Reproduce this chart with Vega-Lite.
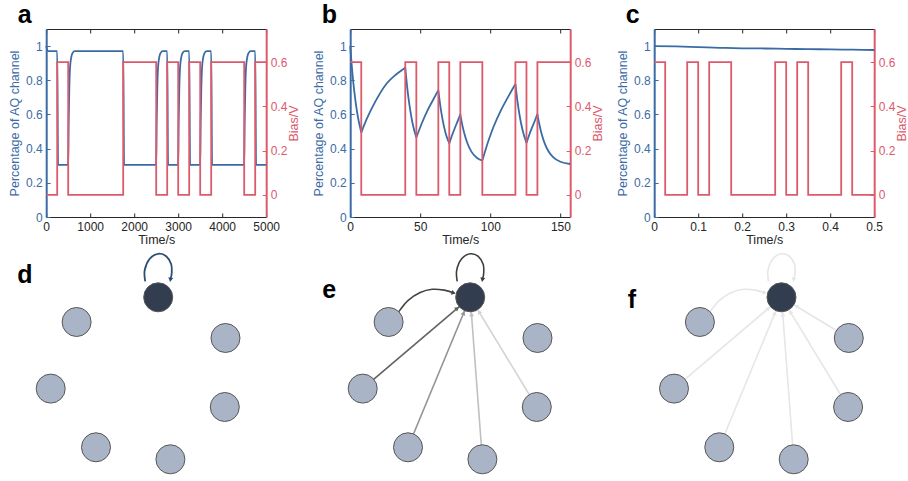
{
  "$schema": "https://vega.github.io/schema/vega-lite/v6.json",
  "padding": {"left": 8.2, "top": 2, "right": 0, "bottom": 0},
  "background": "#ffffff",
  "config": {
    "view": {"stroke": null},
    "font": "Liberation Sans",
    "axis": {"labelFont": "Liberation Sans", "titleFont": "Liberation Sans", "labelFontSize": 12, "titleFontSize": 12.5, "titleFontWeight": "normal", "labelColor": "#262626", "titleColor": "#262626", "domainColor": "#262626", "tickColor": "#262626", "tickSize": -4, "labelPadding": 8, "grid": false, "domainWidth": 1, "tickWidth": 1, "format": "~r"},
    "title": {"font": "Liberation Sans", "fontSize": 25, "fontWeight": "bold", "color": "#000000", "anchor": "start", "frame": "group", "baseline": "alphabetic"}
  },
  "datasets": {
    "aq": [
      {"panel": "a", "seg": 0, "t": 0, "v": 1.0}, {"panel": "a", "seg": 0, "t": 40, "v": 0.97}, {"panel": "a", "seg": 0, "t": 250, "v": 0.97}, {"panel": "a", "seg": 0, "t": 270, "v": 0.305}, {"panel": "a", "seg": 0, "t": 500, "v": 0.305}, {"panel": "a", "seg": 0, "t": 510, "v": 0.54}, {"panel": "a", "seg": 0, "t": 525, "v": 0.75}, {"panel": "a", "seg": 0, "t": 550, "v": 0.9}, {"panel": "a", "seg": 0, "t": 600, "v": 0.96}, {"panel": "a", "seg": 0, "t": 650, "v": 0.97},
      {"panel": "a", "seg": 0, "t": 1750, "v": 0.97}, {"panel": "a", "seg": 0, "t": 1770, "v": 0.305}, {"panel": "a", "seg": 0, "t": 2500, "v": 0.305}, {"panel": "a", "seg": 0, "t": 2510, "v": 0.54}, {"panel": "a", "seg": 0, "t": 2525, "v": 0.75}, {"panel": "a", "seg": 0, "t": 2550, "v": 0.9}, {"panel": "a", "seg": 0, "t": 2600, "v": 0.96}, {"panel": "a", "seg": 0, "t": 2650, "v": 0.97},
      {"panel": "a", "seg": 0, "t": 2750, "v": 0.97}, {"panel": "a", "seg": 0, "t": 2770, "v": 0.305}, {"panel": "a", "seg": 0, "t": 3000, "v": 0.305}, {"panel": "a", "seg": 0, "t": 3010, "v": 0.54}, {"panel": "a", "seg": 0, "t": 3025, "v": 0.75}, {"panel": "a", "seg": 0, "t": 3050, "v": 0.9}, {"panel": "a", "seg": 0, "t": 3100, "v": 0.96}, {"panel": "a", "seg": 0, "t": 3150, "v": 0.97},
      {"panel": "a", "seg": 0, "t": 3250, "v": 0.97}, {"panel": "a", "seg": 0, "t": 3270, "v": 0.305}, {"panel": "a", "seg": 0, "t": 3500, "v": 0.305}, {"panel": "a", "seg": 0, "t": 3510, "v": 0.54}, {"panel": "a", "seg": 0, "t": 3525, "v": 0.75}, {"panel": "a", "seg": 0, "t": 3550, "v": 0.9}, {"panel": "a", "seg": 0, "t": 3600, "v": 0.96}, {"panel": "a", "seg": 0, "t": 3650, "v": 0.97},
      {"panel": "a", "seg": 0, "t": 3750, "v": 0.97}, {"panel": "a", "seg": 0, "t": 3770, "v": 0.305}, {"panel": "a", "seg": 0, "t": 4500, "v": 0.305}, {"panel": "a", "seg": 0, "t": 4510, "v": 0.54}, {"panel": "a", "seg": 0, "t": 4525, "v": 0.75}, {"panel": "a", "seg": 0, "t": 4550, "v": 0.9}, {"panel": "a", "seg": 0, "t": 4600, "v": 0.96}, {"panel": "a", "seg": 0, "t": 4650, "v": 0.97},
      {"panel": "a", "seg": 0, "t": 4750, "v": 0.97}, {"panel": "a", "seg": 0, "t": 4770, "v": 0.305}, {"panel": "a", "seg": 0, "t": 5000, "v": 0.305},

      {"panel": "b", "seg": 1, "t": 0, "v": 1.0}, {"panel": "b", "seg": 1, "t": 1.5, "v": 0.848}, {"panel": "b", "seg": 1, "t": 3, "v": 0.729}, {"panel": "b", "seg": 1, "t": 5, "v": 0.609}, {"panel": "b", "seg": 1, "t": 7.9, "v": 0.494},
      {"panel": "b", "seg": 2, "t": 7.9, "v": 0.494}, {"panel": "b", "seg": 2, "t": 11.9, "v": 0.575}, {"panel": "b", "seg": 2, "t": 17.9, "v": 0.675}, {"panel": "b", "seg": 2, "t": 25.9, "v": 0.78}, {"panel": "b", "seg": 2, "t": 32.9, "v": 0.835}, {"panel": "b", "seg": 2, "t": 39.3, "v": 0.874},
      {"panel": "b", "seg": 3, "t": 39.3, "v": 0.874}, {"panel": "b", "seg": 3, "t": 40.8, "v": 0.75}, {"panel": "b", "seg": 3, "t": 42.3, "v": 0.654}, {"panel": "b", "seg": 3, "t": 44.3, "v": 0.556}, {"panel": "b", "seg": 3, "t": 47.2, "v": 0.465},
      {"panel": "b", "seg": 4, "t": 47.2, "v": 0.465}, {"panel": "b", "seg": 4, "t": 51.2, "v": 0.55}, {"panel": "b", "seg": 4, "t": 55.2, "v": 0.624}, {"panel": "b", "seg": 4, "t": 59.2, "v": 0.686}, {"panel": "b", "seg": 4, "t": 62.9, "v": 0.742},
      {"panel": "b", "seg": 5, "t": 62.9, "v": 0.742}, {"panel": "b", "seg": 5, "t": 64.4, "v": 0.646}, {"panel": "b", "seg": 5, "t": 65.9, "v": 0.571}, {"panel": "b", "seg": 5, "t": 67.9, "v": 0.496}, {"panel": "b", "seg": 5, "t": 70.7, "v": 0.43},
      {"panel": "b", "seg": 6, "t": 70.7, "v": 0.43}, {"panel": "b", "seg": 6, "t": 72.7, "v": 0.478}, {"panel": "b", "seg": 6, "t": 74.7, "v": 0.521}, {"panel": "b", "seg": 6, "t": 76.7, "v": 0.561}, {"panel": "b", "seg": 6, "t": 78.6, "v": 0.6},
      {"panel": "b", "seg": 7, "t": 78.6, "v": 0.6}, {"panel": "b", "seg": 7, "t": 80.1, "v": 0.535}, {"panel": "b", "seg": 7, "t": 81.6, "v": 0.484}, {"panel": "b", "seg": 7, "t": 83.6, "v": 0.433}, {"panel": "b", "seg": 7, "t": 86.6, "v": 0.381}, {"panel": "b", "seg": 7, "t": 90.3, "v": 0.347}, {"panel": "b", "seg": 7, "t": 94.3, "v": 0.33},
      {"panel": "b", "seg": 8, "t": 94.3, "v": 0.33}, {"panel": "b", "seg": 8, "t": 98.3, "v": 0.437}, {"panel": "b", "seg": 8, "t": 102.3, "v": 0.528}, {"panel": "b", "seg": 8, "t": 107.3, "v": 0.62}, {"panel": "b", "seg": 8, "t": 112.3, "v": 0.697}, {"panel": "b", "seg": 8, "t": 117.9, "v": 0.778},
      {"panel": "b", "seg": 9, "t": 117.9, "v": 0.778}, {"panel": "b", "seg": 9, "t": 119.4, "v": 0.675}, {"panel": "b", "seg": 9, "t": 120.9, "v": 0.594}, {"panel": "b", "seg": 9, "t": 122.9, "v": 0.512}, {"panel": "b", "seg": 9, "t": 125.8, "v": 0.433},
      {"panel": "b", "seg": 10, "t": 125.8, "v": 0.433}, {"panel": "b", "seg": 10, "t": 127.8, "v": 0.481}, {"panel": "b", "seg": 10, "t": 129.8, "v": 0.524}, {"panel": "b", "seg": 10, "t": 131.8, "v": 0.563}, {"panel": "b", "seg": 10, "t": 133.6, "v": 0.603},
      {"panel": "b", "seg": 11, "t": 133.6, "v": 0.603}, {"panel": "b", "seg": 11, "t": 135.1, "v": 0.538}, {"panel": "b", "seg": 11, "t": 136.6, "v": 0.487}, {"panel": "b", "seg": 11, "t": 138.6, "v": 0.435}, {"panel": "b", "seg": 11, "t": 141.6, "v": 0.383}, {"panel": "b", "seg": 11, "t": 145, "v": 0.349}, {"panel": "b", "seg": 11, "t": 150, "v": 0.323}, {"panel": "b", "seg": 11, "t": 157, "v": 0.31},

      {"panel": "c", "seg": 0, "t": 0, "v": 1.0}, {"panel": "c", "seg": 0, "t": 0.05, "v": 0.998}, {"panel": "c", "seg": 0, "t": 0.1, "v": 0.994}, {"panel": "c", "seg": 0, "t": 0.15, "v": 0.99}, {"panel": "c", "seg": 0, "t": 0.2, "v": 0.987}, {"panel": "c", "seg": 0, "t": 0.25, "v": 0.986}, {"panel": "c", "seg": 0, "t": 0.3, "v": 0.984}, {"panel": "c", "seg": 0, "t": 0.35, "v": 0.982}, {"panel": "c", "seg": 0, "t": 0.4, "v": 0.981}, {"panel": "c", "seg": 0, "t": 0.45, "v": 0.979}, {"panel": "c", "seg": 0, "t": 0.5, "v": 0.977}
    ],
    "bias": [
      {"panel": "a", "t": 0, "v": 0}, {"panel": "a", "t": 250, "v": 0.6}, {"panel": "a", "t": 500, "v": 0}, {"panel": "a", "t": 1750, "v": 0.6}, {"panel": "a", "t": 2500, "v": 0}, {"panel": "a", "t": 2750, "v": 0.6}, {"panel": "a", "t": 3000, "v": 0}, {"panel": "a", "t": 3250, "v": 0.6}, {"panel": "a", "t": 3500, "v": 0}, {"panel": "a", "t": 3750, "v": 0.6}, {"panel": "a", "t": 4500, "v": 0}, {"panel": "a", "t": 4750, "v": 0.6}, {"panel": "a", "t": 5000, "v": 0.6},
      {"panel": "b", "t": 0, "v": 0.6}, {"panel": "b", "t": 7.9, "v": 0}, {"panel": "b", "t": 39.3, "v": 0.6}, {"panel": "b", "t": 47.2, "v": 0}, {"panel": "b", "t": 62.9, "v": 0.6}, {"panel": "b", "t": 70.7, "v": 0}, {"panel": "b", "t": 78.6, "v": 0.6}, {"panel": "b", "t": 94.3, "v": 0}, {"panel": "b", "t": 117.9, "v": 0.6}, {"panel": "b", "t": 125.8, "v": 0}, {"panel": "b", "t": 133.6, "v": 0.6}, {"panel": "b", "t": 157, "v": 0.6},
      {"panel": "c", "t": 0, "v": 0.6}, {"panel": "c", "t": 0.025, "v": 0}, {"panel": "c", "t": 0.075, "v": 0.6}, {"panel": "c", "t": 0.1, "v": 0}, {"panel": "c", "t": 0.125, "v": 0.6}, {"panel": "c", "t": 0.175, "v": 0}, {"panel": "c", "t": 0.275, "v": 0.6}, {"panel": "c", "t": 0.3, "v": 0}, {"panel": "c", "t": 0.325, "v": 0.6}, {"panel": "c", "t": 0.35, "v": 0}, {"panel": "c", "t": 0.425, "v": 0.6}, {"panel": "c", "t": 0.45, "v": 0}, {"panel": "c", "t": 0.5, "v": 0}
    ],
    "nodes": [
      {"id": "hub", "role": "hub", "x": 0, "y": 0},
      {"id": "n1", "role": "peer", "x": -81.6, "y": -24.7},
      {"id": "n2", "role": "peer", "x": 67.3, "y": -40.7},
      {"id": "n3", "role": "peer", "x": -107.5, "y": -91.3},
      {"id": "n4", "role": "peer", "x": 66.6, "y": -109.7},
      {"id": "n5", "role": "peer", "x": -62.2, "y": -150},
      {"id": "n6", "role": "peer", "x": 12.2, "y": -162}
    ],
    "edges": [
      {"panel": "d", "edge": "loop", "k": 1, "x": -13, "y": 16, "w": 1}, {"panel": "d", "edge": "loop", "k": 2, "x": -13.5, "y": 27, "w": 1}, {"panel": "d", "edge": "loop", "k": 3, "x": -8.5, "y": 38.5, "w": 1}, {"panel": "d", "edge": "loop", "k": 4, "x": 0, "y": 43.5, "w": 1}, {"panel": "d", "edge": "loop", "k": 5, "x": 8, "y": 41, "w": 1}, {"panel": "d", "edge": "loop", "k": 6, "x": 13, "y": 33, "w": 1}, {"panel": "d", "edge": "loop", "k": 7, "x": 13.5, "y": 24, "w": 1}, {"panel": "d", "edge": "loop", "k": 8, "x": 12.3, "y": 18, "w": 1},

      {"panel": "e", "edge": "loop", "k": 1, "x": -13, "y": 16, "w": 0.93}, {"panel": "e", "edge": "loop", "k": 2, "x": -13.5, "y": 27, "w": 0.93}, {"panel": "e", "edge": "loop", "k": 3, "x": -8.5, "y": 38.5, "w": 0.93}, {"panel": "e", "edge": "loop", "k": 4, "x": 0, "y": 43.5, "w": 0.93}, {"panel": "e", "edge": "loop", "k": 5, "x": 8, "y": 41, "w": 0.93}, {"panel": "e", "edge": "loop", "k": 6, "x": 13, "y": 33, "w": 0.93}, {"panel": "e", "edge": "loop", "k": 7, "x": 13.5, "y": 24, "w": 0.93}, {"panel": "e", "edge": "loop", "k": 8, "x": 12.3, "y": 18, "w": 0.93},
      {"panel": "e", "edge": "n1", "k": 1, "x": -71.4, "y": -14.3, "w": 0.9}, {"panel": "e", "edge": "n1", "k": 2, "x": -62, "y": -3, "w": 0.9}, {"panel": "e", "edge": "n1", "k": 3, "x": -50, "y": 4.8, "w": 0.9}, {"panel": "e", "edge": "n1", "k": 4, "x": -38, "y": 8, "w": 0.9}, {"panel": "e", "edge": "n1", "k": 5, "x": -26, "y": 7.2, "w": 0.9}, {"panel": "e", "edge": "n1", "k": 6, "x": -16.5, "y": 4.4, "w": 0.9},
      {"panel": "e", "edge": "n3", "k": 1, "x": -107.5, "y": -91.3, "w": 0.72}, {"panel": "e", "edge": "n3", "k": 2, "x": 0, "y": 0, "w": 0.72},
      {"panel": "e", "edge": "n5", "k": 1, "x": -62.2, "y": -150, "w": 0.45}, {"panel": "e", "edge": "n5", "k": 2, "x": 0, "y": 0, "w": 0.45},
      {"panel": "e", "edge": "n6", "k": 1, "x": 12.2, "y": -162, "w": 0.22}, {"panel": "e", "edge": "n6", "k": 2, "x": 0, "y": 0, "w": 0.22},
      {"panel": "e", "edge": "n4", "k": 1, "x": 66.6, "y": -109.7, "w": 0.12}, {"panel": "e", "edge": "n4", "k": 2, "x": 0, "y": 0, "w": 0.12},

      {"panel": "f", "edge": "loop", "k": 1, "x": -13, "y": 16, "w": 0.03}, {"panel": "f", "edge": "loop", "k": 2, "x": -13.5, "y": 27, "w": 0.03}, {"panel": "f", "edge": "loop", "k": 3, "x": -8.5, "y": 38.5, "w": 0.03}, {"panel": "f", "edge": "loop", "k": 4, "x": 0, "y": 43.5, "w": 0.03}, {"panel": "f", "edge": "loop", "k": 5, "x": 8, "y": 41, "w": 0.03}, {"panel": "f", "edge": "loop", "k": 6, "x": 13, "y": 33, "w": 0.03}, {"panel": "f", "edge": "loop", "k": 7, "x": 13.5, "y": 24, "w": 0.03}, {"panel": "f", "edge": "loop", "k": 8, "x": 12.3, "y": 18, "w": 0.03},
      {"panel": "f", "edge": "n1", "k": 1, "x": -71.4, "y": -14.3, "w": 0.03}, {"panel": "f", "edge": "n1", "k": 2, "x": -62, "y": -3, "w": 0.03}, {"panel": "f", "edge": "n1", "k": 3, "x": -50, "y": 4.8, "w": 0.03}, {"panel": "f", "edge": "n1", "k": 4, "x": -38, "y": 8, "w": 0.03}, {"panel": "f", "edge": "n1", "k": 5, "x": -26, "y": 7.2, "w": 0.03}, {"panel": "f", "edge": "n1", "k": 6, "x": -16.5, "y": 4.4, "w": 0.03},
      {"panel": "f", "edge": "n2", "k": 1, "x": 67.3, "y": -40.7, "w": 0.03}, {"panel": "f", "edge": "n2", "k": 2, "x": 0, "y": 0, "w": 0.03},
      {"panel": "f", "edge": "n3", "k": 1, "x": -107.5, "y": -91.3, "w": 0.03}, {"panel": "f", "edge": "n3", "k": 2, "x": 0, "y": 0, "w": 0.03},
      {"panel": "f", "edge": "n4", "k": 1, "x": 66.6, "y": -109.7, "w": 0.03}, {"panel": "f", "edge": "n4", "k": 2, "x": 0, "y": 0, "w": 0.03},
      {"panel": "f", "edge": "n5", "k": 1, "x": -62.2, "y": -150, "w": 0.03}, {"panel": "f", "edge": "n5", "k": 2, "x": 0, "y": 0, "w": 0.03},
      {"panel": "f", "edge": "n6", "k": 1, "x": 12.2, "y": -162, "w": 0.03}, {"panel": "f", "edge": "n6", "k": 2, "x": 0, "y": 0, "w": 0.03}
    ],
    "arrows": [
      {"panel": "d", "edge": "loop", "x": 12.2, "y": 17.5, "angle": 190, "w": 1},
      {"panel": "e", "edge": "loop", "x": 12.2, "y": 17.5, "angle": 190, "w": 0.93},
      {"panel": "e", "edge": "n1", "x": -16.5, "y": 4.4, "angle": 106, "w": 0.9},
      {"panel": "e", "edge": "n3", "x": -12.96, "y": -11.0, "angle": 49.6, "w": 0.72},
      {"panel": "e", "edge": "n5", "x": -6.5, "y": -15.7, "angle": 22.5, "w": 0.45},
      {"panel": "e", "edge": "n6", "x": 1.28, "y": -16.95, "angle": -4.3, "w": 0.22},
      {"panel": "e", "edge": "n4", "x": 8.8, "y": -14.5, "angle": -31.3, "w": 0.12},
      {"panel": "f", "edge": "loop", "x": 12.2, "y": 17.5, "angle": 190, "w": 0.03},
      {"panel": "f", "edge": "n1", "x": -16.5, "y": 4.4, "angle": 106, "w": 0.03},
      {"panel": "f", "edge": "n2", "x": 14.6, "y": -8.8, "angle": -58.8, "w": 0.03},
      {"panel": "f", "edge": "n3", "x": -12.96, "y": -11.0, "angle": 49.6, "w": 0.03},
      {"panel": "f", "edge": "n4", "x": 8.8, "y": -14.5, "angle": -31.3, "w": 0.03},
      {"panel": "f", "edge": "n5", "x": -6.5, "y": -15.7, "angle": 22.5, "w": 0.03},
      {"panel": "f", "edge": "n6", "x": 1.28, "y": -16.95, "angle": -4.3, "w": 0.03}
    ]
  },
  "columns": 3,
  "bounds": "flush",
  "spacing": {"row": 33.3, "column": 84},
  "concat": [
    {
      "width": 220, "height": 188,
      "title": {"text": "a", "dx": -28.5, "offset": 1},
      "layer": [
        {"data": {"name": "aq"}, "transform": [{"filter": "datum.panel === 'a'"}],
         "mark": {"type": "line", "color": "#3b6ba5", "strokeWidth": 1.8, "interpolate": "monotone"},
         "encoding": {
           "x": {"field": "t", "type": "quantitative", "scale": {"domain": [0, 5000], "nice": false, "zero": false}, "axis": {"orient": "bottom", "title": "Time/s", "values": [0, 1000, 2000, 3000, 4000, 5000], "format": "~r", "labelFlush": false, "titlePadding": 2}},
           "y": {"field": "v", "type": "quantitative", "scale": {"domain": [0, 1.1], "nice": false, "zero": false}, "axis": {"orient": "left", "title": "Percentage of AQ channel", "values": [0, 0.2, 0.4, 0.6, 0.8, 1], "format": "~r", "domainColor": "#3b6ba5", "domainWidth": 2, "tickColor": "#3b6ba5", "labelColor": "#3b6ba5", "titleColor": "#3b6ba5"}},
           "detail": {"field": "seg", "type": "nominal"}
         }},
        {"data": {"name": "bias"}, "transform": [{"filter": "datum.panel === 'a'"}],
         "mark": {"type": "line", "color": "#db5a6b", "strokeWidth": 1.8, "interpolate": "step-after"},
         "encoding": {
           "x": {"field": "t", "type": "quantitative", "scale": {"domain": [0, 5000], "nice": false, "zero": false}, "axis": {"orient": "top", "labels": false, "title": null, "values": [0, 1000, 2000, 3000, 4000, 5000]}},
           "y": {"field": "v", "type": "quantitative", "scale": {"domain": [-0.1, 0.75], "nice": false, "zero": false}, "axis": {"orient": "right", "title": "Bias/V", "values": [0, 0.2, 0.4, 0.6], "format": "~r", "domainColor": "#db5a6b", "domainWidth": 2, "tickColor": "#db5a6b", "labelColor": "#db5a6b", "titleColor": "#db5a6b", "titleAngle": 270, "titleBaseline": "top", "titlePadding": 1}}
         }}
      ],
      "resolve": {"scale": {"y": "independent"}, "axis": {"x": "independent", "y": "independent"}}
    },
    {
      "width": 220, "height": 188,
      "title": {"text": "b", "dx": -28.5, "offset": 1},
      "layer": [
        {"data": {"name": "aq"}, "transform": [{"filter": "datum.panel === 'b'"}],
         "mark": {"type": "line", "color": "#3b6ba5", "strokeWidth": 1.8, "interpolate": "monotone"},
         "encoding": {
           "x": {"field": "t", "type": "quantitative", "scale": {"domain": [0, 157], "nice": false, "zero": false}, "axis": {"orient": "bottom", "title": "Time/s", "values": [0, 50, 100, 150], "format": "~r", "labelFlush": false, "titlePadding": 2}},
           "y": {"field": "v", "type": "quantitative", "scale": {"domain": [0, 1.1], "nice": false, "zero": false}, "axis": {"orient": "left", "title": "Percentage of AQ channel", "values": [0, 0.2, 0.4, 0.6, 0.8, 1], "format": "~r", "domainColor": "#3b6ba5", "domainWidth": 2, "tickColor": "#3b6ba5", "labelColor": "#3b6ba5", "titleColor": "#3b6ba5"}},
           "detail": {"field": "seg", "type": "nominal"}
         }},
        {"data": {"name": "bias"}, "transform": [{"filter": "datum.panel === 'b'"}],
         "mark": {"type": "line", "color": "#db5a6b", "strokeWidth": 1.8, "interpolate": "step-after"},
         "encoding": {
           "x": {"field": "t", "type": "quantitative", "scale": {"domain": [0, 157], "nice": false, "zero": false}, "axis": {"orient": "top", "labels": false, "title": null, "values": [0, 50, 100, 150]}},
           "y": {"field": "v", "type": "quantitative", "scale": {"domain": [-0.1, 0.75], "nice": false, "zero": false}, "axis": {"orient": "right", "title": "Bias/V", "values": [0, 0.2, 0.4, 0.6], "format": "~r", "domainColor": "#db5a6b", "domainWidth": 2, "tickColor": "#db5a6b", "labelColor": "#db5a6b", "titleColor": "#db5a6b", "titleAngle": 270, "titleBaseline": "top", "titlePadding": 1}}
         }}
      ],
      "resolve": {"scale": {"y": "independent"}, "axis": {"x": "independent", "y": "independent"}}
    },
    {
      "width": 220, "height": 188,
      "title": {"text": "c", "dx": -28.5, "offset": 1},
      "layer": [
        {"data": {"name": "aq"}, "transform": [{"filter": "datum.panel === 'c'"}],
         "mark": {"type": "line", "color": "#3b6ba5", "strokeWidth": 1.8, "interpolate": "monotone"},
         "encoding": {
           "x": {"field": "t", "type": "quantitative", "scale": {"domain": [0, 0.5], "nice": false, "zero": false}, "axis": {"orient": "bottom", "title": "Time/s", "values": [0, 0.1, 0.2, 0.3, 0.4, 0.5], "format": "~r", "labelFlush": false, "titlePadding": 2}},
           "y": {"field": "v", "type": "quantitative", "scale": {"domain": [0, 1.1], "nice": false, "zero": false}, "axis": {"orient": "left", "title": "Percentage of AQ channel", "values": [0, 0.2, 0.4, 0.6, 0.8, 1], "format": "~r", "domainColor": "#3b6ba5", "domainWidth": 2, "tickColor": "#3b6ba5", "labelColor": "#3b6ba5", "titleColor": "#3b6ba5"}},
           "detail": {"field": "seg", "type": "nominal"}
         }},
        {"data": {"name": "bias"}, "transform": [{"filter": "datum.panel === 'c'"}],
         "mark": {"type": "line", "color": "#db5a6b", "strokeWidth": 1.8, "interpolate": "step-after"},
         "encoding": {
           "x": {"field": "t", "type": "quantitative", "scale": {"domain": [0, 0.5], "nice": false, "zero": false}, "axis": {"orient": "top", "labels": false, "title": null, "values": [0, 0.1, 0.2, 0.3, 0.4, 0.5]}},
           "y": {"field": "v", "type": "quantitative", "scale": {"domain": [-0.1, 0.75], "nice": false, "zero": false}, "axis": {"orient": "right", "title": "Bias/V", "values": [0, 0.2, 0.4, 0.6], "format": "~r", "domainColor": "#db5a6b", "domainWidth": 2, "tickColor": "#db5a6b", "labelColor": "#db5a6b", "titleColor": "#db5a6b", "titleAngle": 270, "titleBaseline": "top", "titlePadding": 1}}
         }}
      ],
      "resolve": {"scale": {"y": "independent"}, "axis": {"x": "independent", "y": "independent"}}
    },
    {
      "width": 220, "height": 230,
      "title": {"text": "d", "dx": -29, "dy": 38, "offset": 0},
      "layer": [
        {"data": {"name": "edges"}, "transform": [{"filter": "datum.panel === 'd'"}],
         "mark": {"type": "line", "interpolate": "cardinal", "strokeWidth": 1.8, "color": "#2d4e72"},
         "encoding": {
           "x": {"field": "x", "type": "quantitative", "scale": {"domain": [-112, 108], "nice": false, "zero": false}, "axis": null},
           "y": {"field": "y", "type": "quantitative", "scale": {"domain": [-183, 47], "nice": false, "zero": false}, "axis": null},
           "detail": {"field": "edge", "type": "nominal"},
           "order": {"field": "k", "type": "quantitative"}
         }},
        {"data": {"name": "arrows"}, "transform": [{"filter": "datum.panel === 'd'"}],
         "mark": {"type": "point", "shape": "triangle-up", "filled": true, "size": 25, "color": "#2d4e72", "opacity": 1},
         "encoding": {
           "x": {"field": "x", "type": "quantitative"},
           "y": {"field": "y", "type": "quantitative"},
           "angle": {"field": "angle", "type": "quantitative", "scale": null}
         }},
        {"data": {"name": "nodes"},
         "mark": {"type": "point", "shape": "circle", "filled": true, "size": 841, "stroke": "#555555", "strokeWidth": 1, "opacity": 1},
         "encoding": {
           "x": {"field": "x", "type": "quantitative"},
           "y": {"field": "y", "type": "quantitative"},
           "fill": {"field": "role", "type": "nominal", "scale": {"domain": ["hub", "peer"], "range": ["#323d50", "#aab4c7"]}, "legend": null}
         }}
      ]
    },
    {
      "width": 220, "height": 230,
      "title": {"text": "e", "dx": -28, "dy": 53, "offset": 0},
      "layer": [
        {"data": {"name": "edges"}, "transform": [{"filter": "datum.panel === 'e'"}],
         "mark": {"type": "line", "interpolate": "cardinal", "strokeWidth": 1.6},
         "encoding": {
           "x": {"field": "x", "type": "quantitative", "scale": {"domain": [-120, 100], "nice": false, "zero": false}, "axis": null},
           "y": {"field": "y", "type": "quantitative", "scale": {"domain": [-183, 47], "nice": false, "zero": false}, "axis": null},
           "detail": {"field": "edge", "type": "nominal"},
           "order": {"field": "k", "type": "quantitative"},
           "color": {"field": "w", "type": "quantitative", "scale": {"domain": [0, 1], "range": ["#ececec", "#333333"]}, "legend": null}
         }},
        {"data": {"name": "arrows"}, "transform": [{"filter": "datum.panel === 'e'"}],
         "mark": {"type": "point", "shape": "triangle-up", "filled": true, "size": 25, "opacity": 1},
         "encoding": {
           "x": {"field": "x", "type": "quantitative"},
           "y": {"field": "y", "type": "quantitative"},
           "angle": {"field": "angle", "type": "quantitative", "scale": null},
           "color": {"field": "w", "type": "quantitative", "legend": null}
         }},
        {"data": {"name": "nodes"},
         "mark": {"type": "point", "shape": "circle", "filled": true, "size": 841, "stroke": "#555555", "strokeWidth": 1, "opacity": 1},
         "encoding": {
           "x": {"field": "x", "type": "quantitative"},
           "y": {"field": "y", "type": "quantitative"},
           "fill": {"field": "role", "type": "nominal", "scale": {"domain": ["hub", "peer"], "range": ["#323d50", "#aab4c7"]}, "legend": null}
         }}
      ]
    },
    {
      "width": 220, "height": 230,
      "title": {"text": "f", "dx": -26.4, "dy": 63, "offset": 0},
      "layer": [
        {"data": {"name": "edges"}, "transform": [{"filter": "datum.panel === 'f'"}],
         "mark": {"type": "line", "interpolate": "cardinal", "strokeWidth": 1.6},
         "encoding": {
           "x": {"field": "x", "type": "quantitative", "scale": {"domain": [-127.3, 92.7], "nice": false, "zero": false}, "axis": null},
           "y": {"field": "y", "type": "quantitative", "scale": {"domain": [-183, 47], "nice": false, "zero": false}, "axis": null},
           "detail": {"field": "edge", "type": "nominal"},
           "order": {"field": "k", "type": "quantitative"},
           "color": {"field": "w", "type": "quantitative", "scale": {"domain": [0, 1], "range": ["#ececec", "#333333"]}, "legend": null}
         }},
        {"data": {"name": "arrows"}, "transform": [{"filter": "datum.panel === 'f'"}],
         "mark": {"type": "point", "shape": "triangle-up", "filled": true, "size": 25, "opacity": 1},
         "encoding": {
           "x": {"field": "x", "type": "quantitative"},
           "y": {"field": "y", "type": "quantitative"},
           "angle": {"field": "angle", "type": "quantitative", "scale": null},
           "color": {"field": "w", "type": "quantitative", "legend": null}
         }},
        {"data": {"name": "nodes"},
         "mark": {"type": "point", "shape": "circle", "filled": true, "size": 841, "stroke": "#555555", "strokeWidth": 1, "opacity": 1},
         "encoding": {
           "x": {"field": "x", "type": "quantitative"},
           "y": {"field": "y", "type": "quantitative"},
           "fill": {"field": "role", "type": "nominal", "scale": {"domain": ["hub", "peer"], "range": ["#323d50", "#aab4c7"]}, "legend": null}
         }}
      ]
    }
  ]
}
